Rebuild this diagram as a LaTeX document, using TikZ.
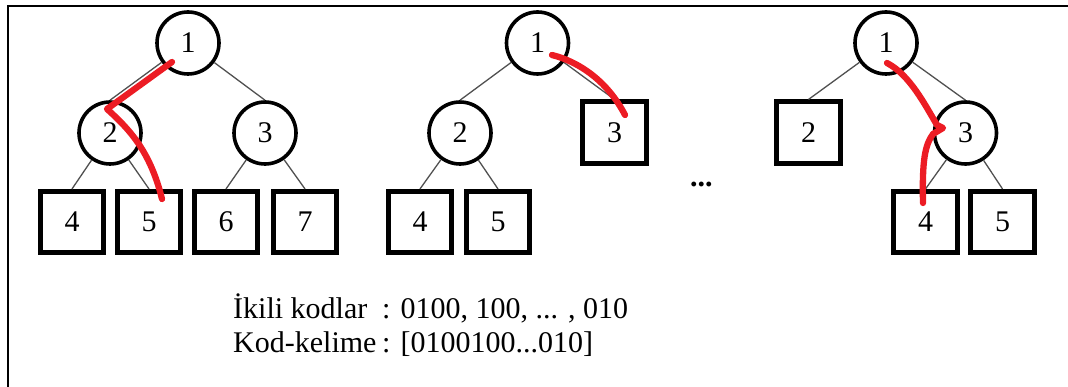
\documentclass[tikz,border=0pt]{standalone}
\usepackage{fontspec}
\setmainfont{Liberation Serif}
\definecolor{markred}{RGB}{236,28,36}
\definecolor{linkgray}{RGB}{80,80,80}
\tikzset{
  cnode/.style={circle,draw,line width=3.6pt,minimum size=62pt,inner sep=0pt,font=\fontsize{30}{32}\selectfont},
  bnode/.style={rectangle,draw,line width=4.6pt,minimum width=63.5pt,minimum height=61.5pt,inner sep=0pt,font=\fontsize{30}{32}\selectfont},
  link/.style={draw=linkgray,line width=1.3pt},
  redmark/.style={draw=markred,line width=6.3pt,line cap=round,line join=round},
  framelin/.style={line width=2.4pt},
  txt/.style={anchor=base west,inner sep=0pt,font=\fontsize{30}{32}\selectfont}
}
\begin{document}
\begin{tikzpicture}[x=1pt,y=-1pt]
\useasboundingbox (0,0) rectangle (1068,387);
% frame
\coordinate (fa) at (7.8,387);
\coordinate (fb) at (7.8,6.2);
\coordinate (fc) at (1068,6.2);
\draw[framelin] (fa) -- (fb) -- (fc);

% tree 1
\node[cnode] (a1) at (188,43) {1};
\node[cnode] (a2) at (110,133) {2};
\node[cnode] (a3) at (265,133) {3};
\node[bnode] (a4) at (72,222) {4};
\node[bnode] (a5) at (149,222) {5};
\node[bnode] (a6) at (226,222) {6};
\node[bnode] (a7) at (305,222) {7};
\draw[link] (a1) -- (a2.north);
\draw[link] (a1) -- (a3.north);
\draw[link] (a2) -- (a4.north);
\draw[link] (a2) -- (a5.north);
\draw[link] (a3) -- (a6.north);
\draw[link] (a3) -- (a7.north);

% tree 2
\node[cnode] (b1) at (537.5,43) {1};
\node[cnode] (b2) at (460,133) {2};
\node[bnode] (b3) at (614.5,132.5) {3};
\node[bnode] (b4) at (420,222) {4};
\node[bnode] (b5) at (498,222) {5};
\draw[link] (b1) -- (b2.north);
\draw[link] (b1) -- (b3.north);
\draw[link] (b2) -- (b4.north);
\draw[link] (b2) -- (b5.north);

% dots
\node[txt,font=\fontsize{30}{32}\selectfont\bfseries] (dots) at (690,187) {...};

% tree 3
\node[cnode] (c1) at (886,43) {1};
\node[bnode] (c2) at (808.5,132.5) {2};
\node[cnode] (c3) at (965.5,133) {3};
\node[bnode] (c4) at (925.5,222) {4};
\node[bnode] (c5) at (1002.5,222) {5};
\draw[link] (c1) -- (c2.north);
\draw[link] (c1) -- (c3.north);
\draw[link] (c3) -- (c4.north);
\draw[link] (c3) -- (c5.north);

% red paths
\draw[redmark] (172,62) -- (107,109) .. controls (128,128) and (150,150) .. (162,199);
\draw[redmark] (552,55) .. controls (580,62) and (608,82) .. (625,115);
\draw[redmark] (887,63) .. controls (910,75) and (925,105) .. (937,125) -- (943,128) -- (933,134) .. controls (925,145) and (922,160) .. (923,203);

% text
\node[txt] (l1) at (233,318) {İkili kodlar};
\node[txt] (v1) at (382,318) {: 0100, 100, ... , 010};
\node[txt] (l2) at (233,352) {Kod-kelime};
\node[txt] (v2) at (382,352) {: [0100100...010]};
\end{tikzpicture}
\end{document}
